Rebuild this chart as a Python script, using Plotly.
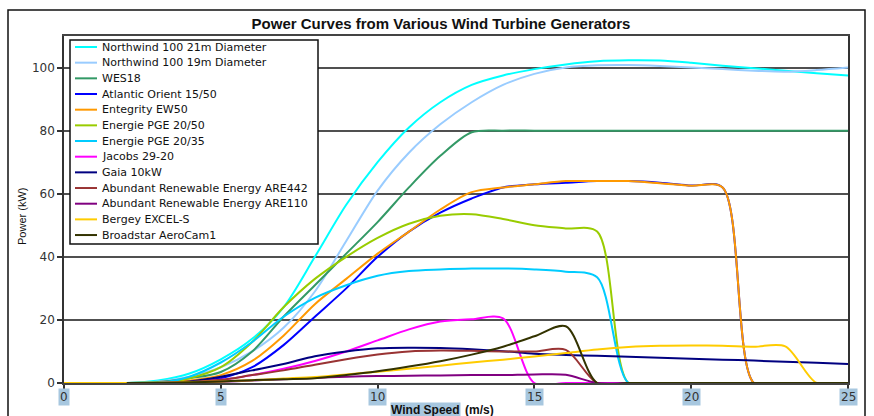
import plotly.graph_objects as go

# ---------------- data ----------------
WIND_SPEED = list(range(26))  # m/s

NORTHWIND_21M = [0, 0, 0, 0.8, 3, 7.5, 14, 24, 40, 56.5, 70, 81, 89, 94.5, 97.5, 99.5,
                 101, 102, 102.3, 102.2, 101.5, 100.6, 99.8, 99, 98.2, 97.5]
NORTHWIND_19M = [0, 0, 0, 0.5, 2, 5, 10, 17.5, 29, 45, 61, 73, 82, 89, 94.5, 98,
                 100, 100.7, 100.8, 100.5, 100, 99.5, 99, 98.7, 99.2, 100]
WES18 = [0, 0, 0, 0.3, 1.5, 3.5, 10, 21, 31, 41, 51, 62, 72, 79.5, 80, 80,
         80, 80, 80, 80, 80, 80, 80, 80, 80, 80]
ATLANTIC_ORIENT = [0, 0, 0, 0, 0.5, 1.5, 5, 12, 21, 30, 40, 48, 54, 58.5, 62, 63,
                   63.5, 64, 64, 63.5, 62.6, 62, 0, 0, 0, 0]
ENTEGRITY_EW50 = [0, 0, 0, 0, 0.8, 2.5, 7, 15, 25, 33, 41, 48, 55, 60.5, 62, 63,
                  64, 64, 64, 63.3, 62.5, 62, 0, 0, 0, 0]
ENERGIE_20_50 = [0, 0, 0, 0, 1.5, 5, 13, 24, 33, 40, 46, 50.5, 53, 53.5, 52, 50,
                 49, 48, 0, 0, 0, 0, 0, 0, 0, 0]
ENERGIE_20_35 = [0, 0, 0, 0, 2, 6.5, 13, 21, 27, 31, 34, 35.5, 36, 36.3, 36.3, 36,
                 35.3, 33.5, 0, 0, 0, 0, 0, 0, 0, 0]
JACOBS_29_20 = [0, 0, 0, 0, 0.3, 1, 2.5, 4.5, 7, 10, 13.5, 17, 19.5, 20.2, 20.5, 0,
                0, 0, 0, 0, 0, 0, 0, 0, 0, 0]
GAIA_10KW = [0, 0, 0, 0, 0.5, 2, 4, 6, 8.5, 10, 11, 11.2, 11.1, 10.7, 10.1, 9.3,
             8.9, 8.6, 8.3, 8.0, 7.7, 7.4, 7.1, 6.7, 6.4, 6.0]
ARE442 = [0, 0, 0, 0, 0.3, 1, 2.5, 4, 5.8, 7.5, 9, 10, 10.3, 10.2, 10, 10,
          10.5, 0, 0, 0, 0, 0, 0, 0, 0, 0]
ARE110 = [0, 0, 0, 0, 0.1, 0.4, 0.8, 1.2, 1.6, 2, 2.2, 2.3, 2.4, 2.5, 2.5, 2.7,
          2.6, 0, 0, 0, 0, 0, 0, 0, 0, 0]
BERGEY_EXCEL_S = [0, 0, 0, 0.1, 0.3, 0.5, 0.9, 1.4, 1.9, 2.7, 3.6, 4.5, 5.5, 6.5, 7.4, 8.4,
                  9.5, 10.6, 11.4, 11.8, 11.9, 11.8, 11.5, 11.6, 0, 0]
BROADSTAR_AEROCAM1 = [None, None, 0, 0, 0.2, 0.5, 0.9, 1.2, 1.5, 2.5, 3.7, 5.2, 6.9, 9, 11.5, 14.8,
                      18, 0, 0, 0, 0, 0, 0, 0, 0, 0]

SERIES_NAMES = [
    "Northwind 100 21m Diameter",
    "Northwind 100 19m Diameter",
    "WES18",
    "Atlantic Orient 15/50",
    "Entegrity EW50",
    "Energie PGE 20/50",
    "Energie PGE 20/35",
    "Jacobs 29-20",
    "Gaia 10kW",
    "Abundant Renewable Energy ARE442",
    "Abundant Renewable Energy ARE110",
    "Bergey EXCEL-S",
    "Broadstar AeroCam1",
]
SERIES_VALUES = [NORTHWIND_21M, NORTHWIND_19M, WES18, ATLANTIC_ORIENT, ENTEGRITY_EW50,
                 ENERGIE_20_50, ENERGIE_20_35, JACOBS_29_20, GAIA_10KW, ARE442, ARE110,
                 BERGEY_EXCEL_S, BROADSTAR_AEROCAM1]
SERIES_COLORS = ["#00FFFF", "#99CCFF", "#339966", "#0000FF", "#FF9900", "#99CC00",
                 "#00CCFF", "#FF00FF", "#000080", "#993333", "#800080", "#FFCC00", "#333300"]

X_TICKS = [0, 5, 10, 15, 20, 25]
Y_TICKS = [0, 20, 40, 60, 80, 100]

TITLE = "Power Curves from Various Wind Turbine Generators"
X_TITLE_MAIN = "Wind Speed"
X_TITLE_UNIT = "(m/s)"
Y_TITLE = "Power (kW)"

# ---------------- layout geometry ----------------
W, H = 874, 416
ML, MR, MT, MB = 64, 26, 36, 33
PW, PH = W - ML - MR, H - MT - MB


def fx(px):
    return (px - ML) / PW


def fy(py):
    return (H - MB - py) / PH


fig = go.Figure()
for name, vals, col in zip(SERIES_NAMES, SERIES_VALUES, SERIES_COLORS):
    fig.add_trace(go.Scatter(
        x=WIND_SPEED, y=vals, name=name, mode="lines",
        line=dict(color=col, width=2, shape="spline", smoothing=0.85),
        showlegend=False, connectgaps=False, hoverinfo="x+y+name",
    ))

shapes = []
annotations = []

# outer chart border
shapes.append(dict(type="rect", xref="paper", yref="paper",
                   x0=fx(8), x1=fx(865), y0=fy(440), y1=fy(10),
                   line=dict(color="#111111", width=1.5), fillcolor="rgba(0,0,0,0)",
                   layer="above"))

# legend box
LEG_X0, LEG_X1, LEG_Y0, LEG_Y1 = 70, 318, 40, 244
shapes.append(dict(type="rect", xref="paper", yref="paper",
                   x0=fx(LEG_X0), x1=fx(LEG_X1), y0=fy(LEG_Y1), y1=fy(LEG_Y0),
                   line=dict(color="#111111", width=1.5), fillcolor="white", layer="above"))
row0, row_step = 47.0, 15.67
for i, (name, col) in enumerate(zip(SERIES_NAMES, SERIES_COLORS)):
    yy = fy(row0 + i * row_step)
    shapes.append(dict(type="line", xref="paper", yref="paper",
                       x0=fx(75), x1=fx(97), y0=yy, y1=yy,
                       line=dict(color=col, width=2), layer="above"))
    annotations.append(dict(xref="paper", yref="paper", x=fx(100), y=yy,
                            xanchor="left", yanchor="middle", text=name, showarrow=False,
                            font=dict(family="DejaVu Sans", size=11, color="#111111")))

# x tick labels with highlighted background
for v in X_TICKS:
    annotations.append(dict(xref="x", yref="paper", x=v, y=fy(397),
                            xanchor="center", yanchor="middle", text=str(v), showarrow=False,
                            bgcolor="#a7c7df", borderpad=1,
                            font=dict(family="DejaVu Sans", size=12, color="#333333")))

# x axis title
annotations.append(dict(xref="paper", yref="paper", x=fx(461), y=fy(410),
                        xanchor="right", yanchor="middle", text="<b>" + X_TITLE_MAIN + "</b>",
                        showarrow=False, bgcolor="#a7c7df", borderpad=0,
                        font=dict(family="Liberation Sans", size=12, color="#111111")))
annotations.append(dict(xref="paper", yref="paper", x=fx(463), y=fy(410),
                        xanchor="left", yanchor="middle", text="<b>" + X_TITLE_UNIT + "</b>",
                        showarrow=False,
                        font=dict(family="Liberation Sans", size=12, color="#111111")))

# y axis title
annotations.append(dict(xref="paper", yref="paper", x=fx(22), y=fy(217),
                        xanchor="center", yanchor="middle", text=Y_TITLE, textangle=-90,
                        showarrow=False,
                        font=dict(family="Liberation Sans", size=11, color="#111111")))

fig.update_layout(
    width=W, height=H,
    margin=dict(l=ML, r=MR, t=MT, b=MB, pad=0),
    paper_bgcolor="white", plot_bgcolor="white",
    title=dict(text="<b>" + TITLE + "</b>", x=441 / W, xanchor="center",
               y=1 - 24 / H, yanchor="middle", yref="container",
               font=dict(family="Liberation Sans", size=15, color="#111111")),
    showlegend=False,
    shapes=shapes, annotations=annotations,
)
fig.update_xaxes(range=[0, 25], tickvals=X_TICKS, showticklabels=False,
                 ticks="outside", ticklen=5, tickcolor="#333333", tickwidth=1.5,
                 showline=True, linecolor="#444444", linewidth=1.5, mirror=True,
                 showgrid=False, zeroline=False)
fig.update_yaxes(range=[0, 110], tickvals=Y_TICKS, ticks="outside", ticklen=5,
                 tickcolor="#333333", tickwidth=1.5,
                 tickfont=dict(family="DejaVu Sans", size=12, color="#333333"),
                 showline=True, linecolor="#333333", linewidth=1.5, mirror=True,
                 showgrid=True, gridcolor="#505050", gridwidth=1.5, zeroline=False)

fig.write_html("out.html", config={"displayModeBar": False},
               post_script="document.body.style.margin='0';")
